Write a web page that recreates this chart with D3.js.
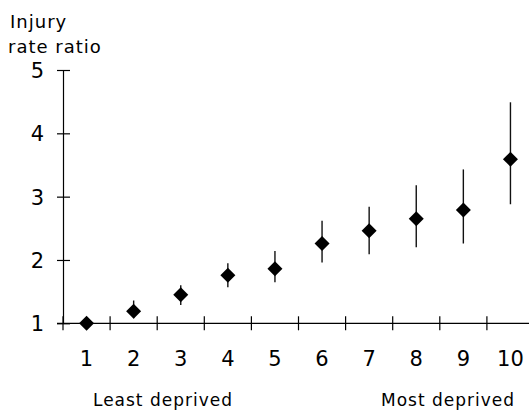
<!DOCTYPE html>
<html>
<head>
<meta charset="utf-8">
<script src="https://cdn.jsdelivr.net/npm/d3@7"></script>
<style>
  html, body { margin: 0; padding: 0; background: #fff; }
  svg { display: block; }
  text { font-family: "DejaVu Sans", Verdana, sans-serif; fill: #000; }
</style>
</head>
<body>
<svg id="chart" width="529" height="410"></svg>
<script>
// Deprivation deciles (1 = least deprived, 10 = most deprived)
const deciles = [1, 2, 3, 4, 5, 6, 7, 8, 9, 10];
// Injury rate ratio point estimates and 95% confidence limits
const rateRatio = [1.00, 1.19, 1.45, 1.76, 1.86, 2.26, 2.46, 2.65, 2.79, 3.59];
const lowerCI   = [1.00, 1.08, 1.29, 1.57, 1.65, 1.96, 2.09, 2.20, 2.26, 2.88];
const upperCI   = [1.00, 1.36, 1.60, 1.95, 2.14, 2.62, 2.84, 3.18, 3.43, 4.49];
const yTicks = [1, 2, 3, 4, 5];

const data = deciles.map((d, i) => ({ d, v: rateRatio[i], lo: lowerCI[i], hi: upperCI[i] }));

const svg = d3.select("#chart");

const x = d3.scaleBand().domain(deciles).range([63, 534]).padding(0);
const y = d3.scaleLinear().domain([1, 5]).range([323.3, 70]);
const cx = d => x(d) + x.bandwidth() / 2;

// Y axis with ticks crossing the axis line
const yAxis = svg.append("g")
  .attr("transform", "translate(63,0)")
  .call(d3.axisLeft(y).tickValues(yTicks).tickFormat(d3.format("d")).tickSize(6).tickSizeOuter(0).tickPadding(13));
yAxis.select(".domain").attr("stroke", "#000").attr("stroke-width", 1.2);
yAxis.selectAll(".tick line").attr("x1", 7).attr("stroke", "#000").attr("stroke-width", 1.2);
yAxis.selectAll(".tick text")
  .style("font-family", "'DejaVu Sans', Verdana, sans-serif")
  .style("font-size", "21px")
  .attr("dy", "0.36em");

// X axis: ticks at category boundaries, labels centred on each decile
const xg = svg.append("g").attr("transform", "translate(0,323.3)");
xg.append("line")
  .attr("x1", 57).attr("x2", 534)
  .attr("stroke", "#000").attr("stroke-width", 1.2);
xg.selectAll("line.tk")
  .data(deciles)
  .join("line")
  .attr("class", "tk")
  .attr("x1", d => x(d)).attr("x2", d => x(d))
  .attr("y1", -7).attr("y2", 7)
  .attr("stroke", "#000").attr("stroke-width", 1.2);
xg.selectAll("text.lbl")
  .data(deciles)
  .join("text")
  .attr("class", "lbl")
  .attr("x", d => cx(d))
  .attr("y", 43)
  .attr("text-anchor", "middle")
  .style("font-size", "21px")
  .text(d => d);

// Confidence interval bars
svg.append("g").selectAll("line")
  .data(data)
  .join("line")
  .attr("x1", d => cx(d.d)).attr("x2", d => cx(d.d))
  .attr("y1", d => y(d.hi)).attr("y2", d => y(d.lo))
  .attr("stroke", "#111").attr("stroke-width", 1.4);

// Diamond markers
const r = 7.5;
svg.append("g").selectAll("path")
  .data(data)
  .join("path")
  .attr("transform", d => `translate(${cx(d.d)},${y(d.v)})`)
  .attr("d", `M0,${-r}L${r},0L0,${r}L${-r},0Z`)
  .attr("fill", "#000");

// Axis title
const title = svg.append("text")
  .style("font-size", "18px")
  .style("letter-spacing", "1px");
title.append("tspan").attr("x", 10).attr("y", 28).text("Injury");
title.append("tspan").attr("x", 8).attr("y", 53).text("rate ratio");

// End annotations
svg.append("text")
  .attr("x", 163).attr("y", 406)
  .attr("text-anchor", "middle")
  .style("font-size", "17px")
  .style("letter-spacing", "1px")
  .text("Least deprived");
svg.append("text")
  .attr("x", 448).attr("y", 406)
  .attr("text-anchor", "middle")
  .style("font-size", "17px")
  .style("letter-spacing", "1px")
  .text("Most deprived");
</script>
</body>
</html>
